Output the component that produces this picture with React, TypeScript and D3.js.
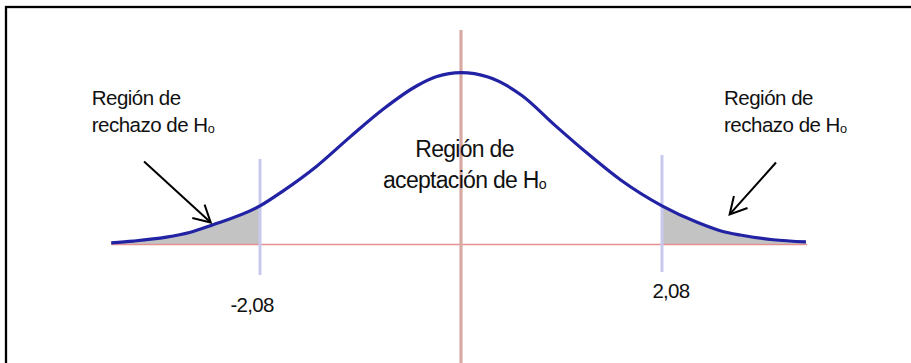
import React, { useEffect, useRef } from 'react';
import * as d3 from 'd3';

// curve: z value and density height
const curveZ = [-3.62, -3.39, -3.05, -2.81, -2.58, -2.08, -1.84, -1.49, -1.15, -0.8, -0.46, -0.25, 0, 0.28, 0.63, 0.97, 1.32, 1.66, 2.08, 2.45, 2.7, 2.89, 3.23, 3.57];
const curveDensity = [0.004, 0.008, 0.017, 0.028, 0.045, 0.09, 0.125, 0.183, 0.25, 0.316, 0.369, 0.391, 0.4, 0.39, 0.347, 0.278, 0.21, 0.149, 0.09, 0.051, 0.031, 0.022, 0.011, 0.006];

const critValues = [-2.08, 2.08];
const critLabels = ['-2,08', '2,08'];

const sideLabel = ['Región de', 'rechazo de H'];
const centerLabel = ['Región de', 'aceptación de H'];
const subscript = 'o';

// arrows: [fromZ, fromDensity, toZ, toDensity]
const arrowsData = [
  [-3.28, 0.193, -2.59, 0.051],
  [3.26, 0.191, 2.78, 0.07],
];

const W = 911;
const H = 363;
const FONT = '"Liberation Sans", Arial, sans-serif';

export default function App() {
  const ref = useRef<SVGSVGElement | null>(null);

  useEffect(() => {
    const svg = d3.select(ref.current);
    svg.selectAll('*').remove();

    const x = d3.scaleLinear().domain([-4, 4]).range([74.5, 847.5]);
    const y = d3.scaleLinear().domain([0, 0.4]).range([244.5, 72.7]);

    const pts: [number, number][] = curveZ.map((z, i) => [z, curveDensity[i]]);
    const smooth = d3.curveMonotoneX;

    svg.append('rect').attr('width', W).attr('height', H).attr('fill', '#fff');

    // border, open on right and bottom
    svg.append('rect')
      .attr('x', 6).attr('y', 7)
      .attr('width', 1200).attr('height', 1000)
      .attr('fill', 'none').attr('stroke', '#000').attr('stroke-width', 2.3);

    // shaded tails
    const area = d3.area<[number, number]>()
      .x(d => x(d[0])).y0(y(0)).y1(d => y(d[1]))
      .curve(smooth);
    svg.append('path')
      .datum(pts.filter(d => d[0] <= critValues[0]))
      .attr('d', area).attr('fill', '#c3c3c3');
    svg.append('path')
      .datum(pts.filter(d => d[0] >= critValues[1]))
      .attr('d', area).attr('fill', '#c3c3c3');

    // horizontal axis
    svg.append('line')
      .attr('x1', x(curveZ[0])).attr('x2', x(curveZ[curveZ.length - 1]) + 1)
      .attr('y1', y(0)).attr('y2', y(0))
      .attr('stroke', '#e39191').attr('stroke-width', 1.6);

    // vertical axis
    svg.append('line')
      .attr('x1', x(0)).attr('x2', x(0))
      .attr('y1', 30).attr('y2', H)
      .attr('stroke', '#d7a9a3').attr('stroke-width', 3.2);

    // critical lines
    critValues.forEach((c, i) => {
      svg.append('line')
        .attr('x1', x(c)).attr('x2', x(c))
        .attr('y1', i === 0 ? 159 : 155).attr('y2', i === 0 ? 275 : 272)
        .attr('stroke', '#c9c9f0').attr('stroke-width', 3);
    });

    // density curve
    svg.append('path')
      .datum(pts)
      .attr('d', d3.line<[number, number]>().x(d => x(d[0])).y(d => y(d[1])).curve(smooth))
      .attr('fill', 'none').attr('stroke', '#2222a4').attr('stroke-width', 3.2);

    // critical labels
    critValues.forEach((c, i) => {
      svg.append('text')
        .attr('x', x(c) + (i === 0 ? -8 : 9))
        .attr('y', y(0) + (i === 0 ? 67 : 53))
        .attr('text-anchor', 'middle')
        .attr('font-family', FONT).attr('font-size', 20.5)
        .attr('letter-spacing', -0.7)
        .attr('fill', '#111')
        .text(critLabels[i]);
    });

    // text blocks
    const block = (tx: number, ty: number, lines: string[], size: number, gap: number, anchor: string, ls: number) => {
      lines.forEach((ln, i) => {
        const t = svg.append('text')
          .attr('x', tx).attr('y', ty + i * gap)
          .attr('text-anchor', anchor)
          .attr('font-family', FONT).attr('font-size', size)
          .attr('letter-spacing', ls)
          .attr('fill', '#111');
        t.append('tspan').text(ln);
        if (i === lines.length - 1) {
          t.append('tspan').attr('font-size', size * 0.62).attr('dy', 1).text(subscript);
        }
      });
    };
    block(91.7, 105, sideLabel, 20.5, 26.7, 'start', -0.5);
    block(724, 105, sideLabel, 20.5, 26.7, 'start', -0.5);
    block(464.5, 156.7, centerLabel, 23, 31, 'middle', -0.7);

    // arrows
    arrowsData.forEach(a => {
      const x1 = x(a[0]), y1 = y(a[1]), x2 = x(a[2]), y2 = y(a[3]);
      const ang = Math.atan2(y2 - y1, x2 - x1);
      const len = 19, spread = 0.5;
      const g = svg.append('g').attr('stroke', '#000').attr('stroke-width', 2).attr('fill', 'none');
      g.append('line').attr('x1', x1).attr('y1', y1).attr('x2', x2).attr('y2', y2);
      g.append('path').attr('d',
        `M${x2 - len * Math.cos(ang - spread)},${y2 - len * Math.sin(ang - spread)}L${x2},${y2}L${x2 - len * Math.cos(ang + spread)},${y2 - len * Math.sin(ang + spread)}`);
    });
  }, []);

  return (
    <svg ref={ref} width={W} height={H} style={{ position: 'fixed', left: 0, top: 0 }} />
  );
}
